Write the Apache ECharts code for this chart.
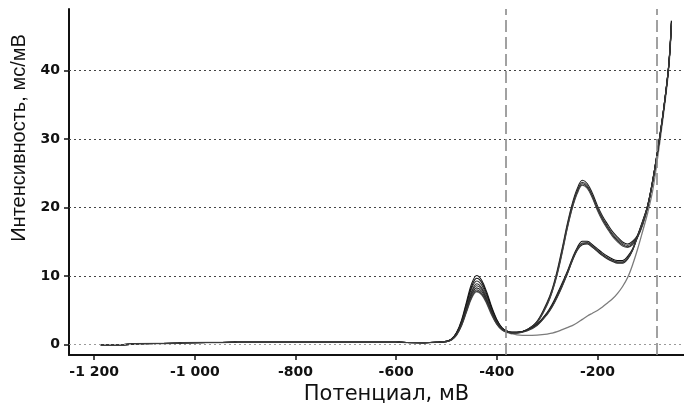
<!DOCTYPE html>
<html>
<head>
<meta charset="utf-8">
<script src="https://cdn.jsdelivr.net/npm/echarts@6/dist/echarts.min.js"></script>
<style>
html,body{margin:0;padding:0;background:#fff;}
#chart{width:684px;height:403px;}
</style>
</head>
<body>
<div id="chart"></div>
<script>
// ---- data ----
const xTicks = [-1200, -1000, -800, -600, -400, -200];
const xTickLabels = ['-1 200', '-1 000', '-800', '-600', '-400', '-200'];
const yTicks = [0, 10, 20, 30, 40];
const yTickLabels = ['0', '10', '20', '30', '40'];
const markerPotentials = [-382, -83];

// flat region (shared by all curves)
const flatPotential = [-1187, -1130, -1120, -1035, -1025, -925, -915, -760, -600, -590, -545, -520];
const flatIntensity = [0.0, 0.05, 0.15, 0.2, 0.3, 0.35, 0.45, 0.45, 0.45, 0.35, 0.3, 0.35];

// first peak region
const peakPotential = [-500, -490, -480, -470, -460, -450, -440, -430, -420, -410, -400, -390, -380, -370, -360];
// second region
const tailPotential = [-340, -320, -300, -290, -280, -270, -260, -250, -240, -230, -220, -210, -200, -190, -180, -170, -160, -150, -140, -130, -120, -110, -100, -90, -80, -70, -60, -56, -53];

const peakA1 = [0.5, 0.85, 1.8, 3.6, 6.3, 8.9, 10.1, 9.4, 7.7, 5.5, 3.7, 2.5, 2.0, 1.8, 1.8];
const peakA2 = [0.5, 0.8, 1.7, 3.3, 5.8, 8.2, 9.3, 8.7, 7.1, 5.1, 3.5, 2.4, 1.95, 1.8, 1.8];
const peakA3 = [0.5, 0.8, 1.6, 3.1, 5.4, 7.6, 8.6, 8.1, 6.6, 4.8, 3.3, 2.3, 1.9, 1.75, 1.75];
const peakA4 = [0.45, 0.75, 1.5, 2.9, 5.0, 7.0, 8.0, 7.5, 6.2, 4.5, 3.1, 2.2, 1.85, 1.7, 1.75];
const peakB1 = [0.5, 0.8, 1.7, 3.4, 6.0, 8.5, 9.7, 9.1, 7.4, 5.3, 3.6, 2.5, 2.0, 1.8, 1.8];
const peakB2 = [0.5, 0.8, 1.6, 3.2, 5.6, 7.8, 8.9, 8.3, 6.8, 4.9, 3.4, 2.4, 1.95, 1.8, 1.8];
const peakB3 = [0.45, 0.75, 1.5, 3.0, 5.2, 7.3, 8.3, 7.8, 6.4, 4.7, 3.2, 2.3, 1.9, 1.75, 1.75];
const peakB4 = [0.45, 0.7, 1.4, 2.8, 4.9, 6.9, 7.8, 7.4, 6.1, 4.4, 3.0, 2.2, 1.85, 1.7, 1.7];
const peakC = [0.45, 0.7, 1.4, 2.8, 4.8, 6.8, 7.7, 7.3, 6.0, 4.3, 3.0, 2.2, 1.8, 1.6, 1.45];

const tailA1 = [2.2, 3.4, 6.2, 8.1, 10.8, 14.1, 17.6, 20.6, 22.8, 24.0, 23.5, 22.1, 20.3, 18.8, 17.6, 16.5, 15.7, 15.0, 14.7, 15.1, 16.0, 17.8, 20.4, 24.1, 28.6, 33.6, 39.6, 43.2, 47.3];
const tailA2 = [2.2, 3.3, 6.0, 7.9, 10.5, 13.8, 17.3, 20.3, 22.5, 23.7, 23.2, 21.8, 20.0, 18.5, 17.3, 16.2, 15.4, 14.8, 14.5, 14.9, 15.9, 17.7, 20.3, 24.0, 28.5, 33.5, 39.5, 43.0, 47.0];
const tailA3 = [2.2, 3.3, 5.9, 7.8, 10.4, 13.6, 17.1, 20.1, 22.3, 23.5, 23.0, 21.6, 19.8, 18.3, 17.1, 16.0, 15.2, 14.6, 14.3, 14.7, 15.8, 17.6, 20.2, 23.9, 28.4, 33.4, 39.4, 42.9, 46.8];
const tailA4 = [2.1, 3.2, 5.8, 7.7, 10.2, 13.4, 16.9, 19.9, 22.1, 23.3, 22.8, 21.4, 19.6, 18.1, 16.9, 15.8, 15.0, 14.4, 14.2, 14.6, 15.7, 17.5, 20.1, 23.8, 28.3, 33.3, 39.3, 42.8, 46.6];
const tailB1 = [2.1, 3.0, 4.7, 5.9, 7.4, 9.0, 10.7, 12.6, 14.2, 15.1, 15.1, 14.6, 14.0, 13.4, 12.9, 12.5, 12.3, 12.3, 12.9, 14.0, 16.0, 18.1, 20.4, 24.1, 28.6, 33.6, 39.6, 43.1, 47.2];
const tailB2 = [2.1, 2.9, 4.6, 5.7, 7.2, 8.8, 10.5, 12.4, 14.0, 14.85, 14.9, 14.4, 13.8, 13.2, 12.7, 12.35, 12.1, 12.1, 12.7, 13.9, 15.9, 18.0, 20.3, 24.0, 28.5, 33.5, 39.5, 43.0, 47.0];
const tailB3 = [2.1, 2.9, 4.5, 5.6, 7.0, 8.6, 10.3, 12.2, 13.8, 14.6, 14.7, 14.2, 13.6, 13.0, 12.5, 12.15, 11.9, 11.9, 12.5, 13.8, 15.8, 17.9, 20.2, 23.9, 28.4, 33.4, 39.4, 42.9, 46.9];
const tailB4 = [2.0, 2.8, 4.4, 5.5, 6.9, 8.5, 10.3, 12.3, 13.9, 14.75, 14.8, 14.3, 13.7, 13.1, 12.6, 12.25, 12.0, 12.0, 12.6, 13.85, 15.85, 17.95, 20.25, 23.95, 28.45, 33.45, 39.45, 42.95, 46.9];
const tailC = [1.35, 1.4, 1.55, 1.7, 1.9, 2.2, 2.5, 2.8, 3.2, 3.7, 4.2, 4.6, 5.0, 5.5, 6.1, 6.7, 7.5, 8.5, 9.8, 11.7, 14.0, 16.6, 19.3, 22.6, 27.5, 32.9, 39.0, 42.6, 46.5];

const curves = [
  { peak: peakA1, tail: tailA1, color: '#1e1e1e' },
  { peak: peakA2, tail: tailA2, color: '#3a3a3a' },
  { peak: peakA3, tail: tailA3, color: '#2a2a2a' },
  { peak: peakA4, tail: tailA4, color: '#444444' },
  { peak: peakB1, tail: tailB1, color: '#111111' },
  { peak: peakB2, tail: tailB2, color: '#333333' },
  { peak: peakB3, tail: tailB3, color: '#242424' },
  { peak: peakB4, tail: tailB4, color: '#3c3c3c' },
  { peak: peakC, tail: tailC, color: '#7c7c7c' }
];

// ---- chart ----
const chart = echarts.init(document.getElementById('chart'), null, { renderer: 'canvas' });

const series = [];
series.push({
  type: 'line', data: [], z: 1, silent: true,
  markLine: {
    silent: true, symbol: 'none', label: { show: false }, animation: false,
    data: yTicks.map(v => ({
      yAxis: v,
      lineStyle: { color: v === 0 ? '#9a9a9a' : '#444', width: 1, type: [2, 3] }
    }))
  }
});
series.push({
  type: 'line', data: [], z: 2, silent: true,
  markLine: {
    silent: true, symbol: 'none', label: { show: false }, animation: false,
    lineStyle: { color: '#8a8a8a', width: 1.6, type: [12, 5] },
    data: markerPotentials.map(v => ({ xAxis: v }))
  }
});
curves.forEach((c, k) => {
  const data = flatPotential.map((x, i) => [x, flatIntensity[i]])
    .concat(peakPotential.map((x, i) => [x, c.peak[i]]))
    .concat(tailPotential.map((x, i) => [x, c.tail[i]]));
  series.push({
    type: 'line', data, z: 3 + (k === 8 ? 0 : 1),
    showSymbol: false, symbol: 'none', smooth: 0.35,
    lineStyle: { color: c.color, width: k === 8 ? 1.3 : 1.1 }
  });
});

chart.setOption({
  animation: false,
  backgroundColor: '#fff',
  grid: { left: 69, right: 0, top: 9, bottom: 48, containLabel: false, outerBoundsMode: 'none' },
  xAxis: {
    type: 'value', min: -1250, max: -28,
    name: 'Потенциал, мВ', nameLocation: 'middle', nameGap: 19,
    nameTextStyle: { fontFamily: 'DejaVu Sans', fontSize: 21, color: '#111', padding: [0, 0, 0, 20] },
    axisLine: { show: true, onZero: false, lineStyle: { color: '#111', width: 2 } },
    axisTick: { show: true, inside: false, length: 5, customValues: xTicks, lineStyle: { color: '#111', width: 1.5 } },
    axisLabel: {
      customValues: xTicks, margin: 10,
      fontFamily: 'DejaVu Sans', fontWeight: 'bold', fontSize: 14, color: '#111',
      formatter: v => { const i = xTicks.indexOf(v); return i >= 0 ? xTickLabels[i] : ''; }
    },
    splitLine: { show: false }
  },
  yAxis: {
    type: 'value', min: -1.5, max: 49,
    name: 'Интенсивность, мс/мВ', nameLocation: 'middle', nameGap: 32, nameRotate: 90,
    nameTextStyle: { fontFamily: 'Liberation Sans', fontSize: 20, color: '#111', padding: [0, 0, 0, 88] },
    axisLine: { show: true, onZero: false, lineStyle: { color: '#111', width: 2 } },
    axisTick: { show: true, inside: false, length: 5, customValues: yTicks, lineStyle: { color: '#111', width: 1.5 } },
    axisLabel: {
      customValues: yTicks, margin: 9,
      fontFamily: 'DejaVu Sans', fontWeight: 'bold', fontSize: 14, color: '#111',
      formatter: v => { const i = yTicks.indexOf(v); return i >= 0 ? yTickLabels[i] : ''; }
    },
    splitLine: { show: false }
  },
  series
});
</script>
</body>
</html>
